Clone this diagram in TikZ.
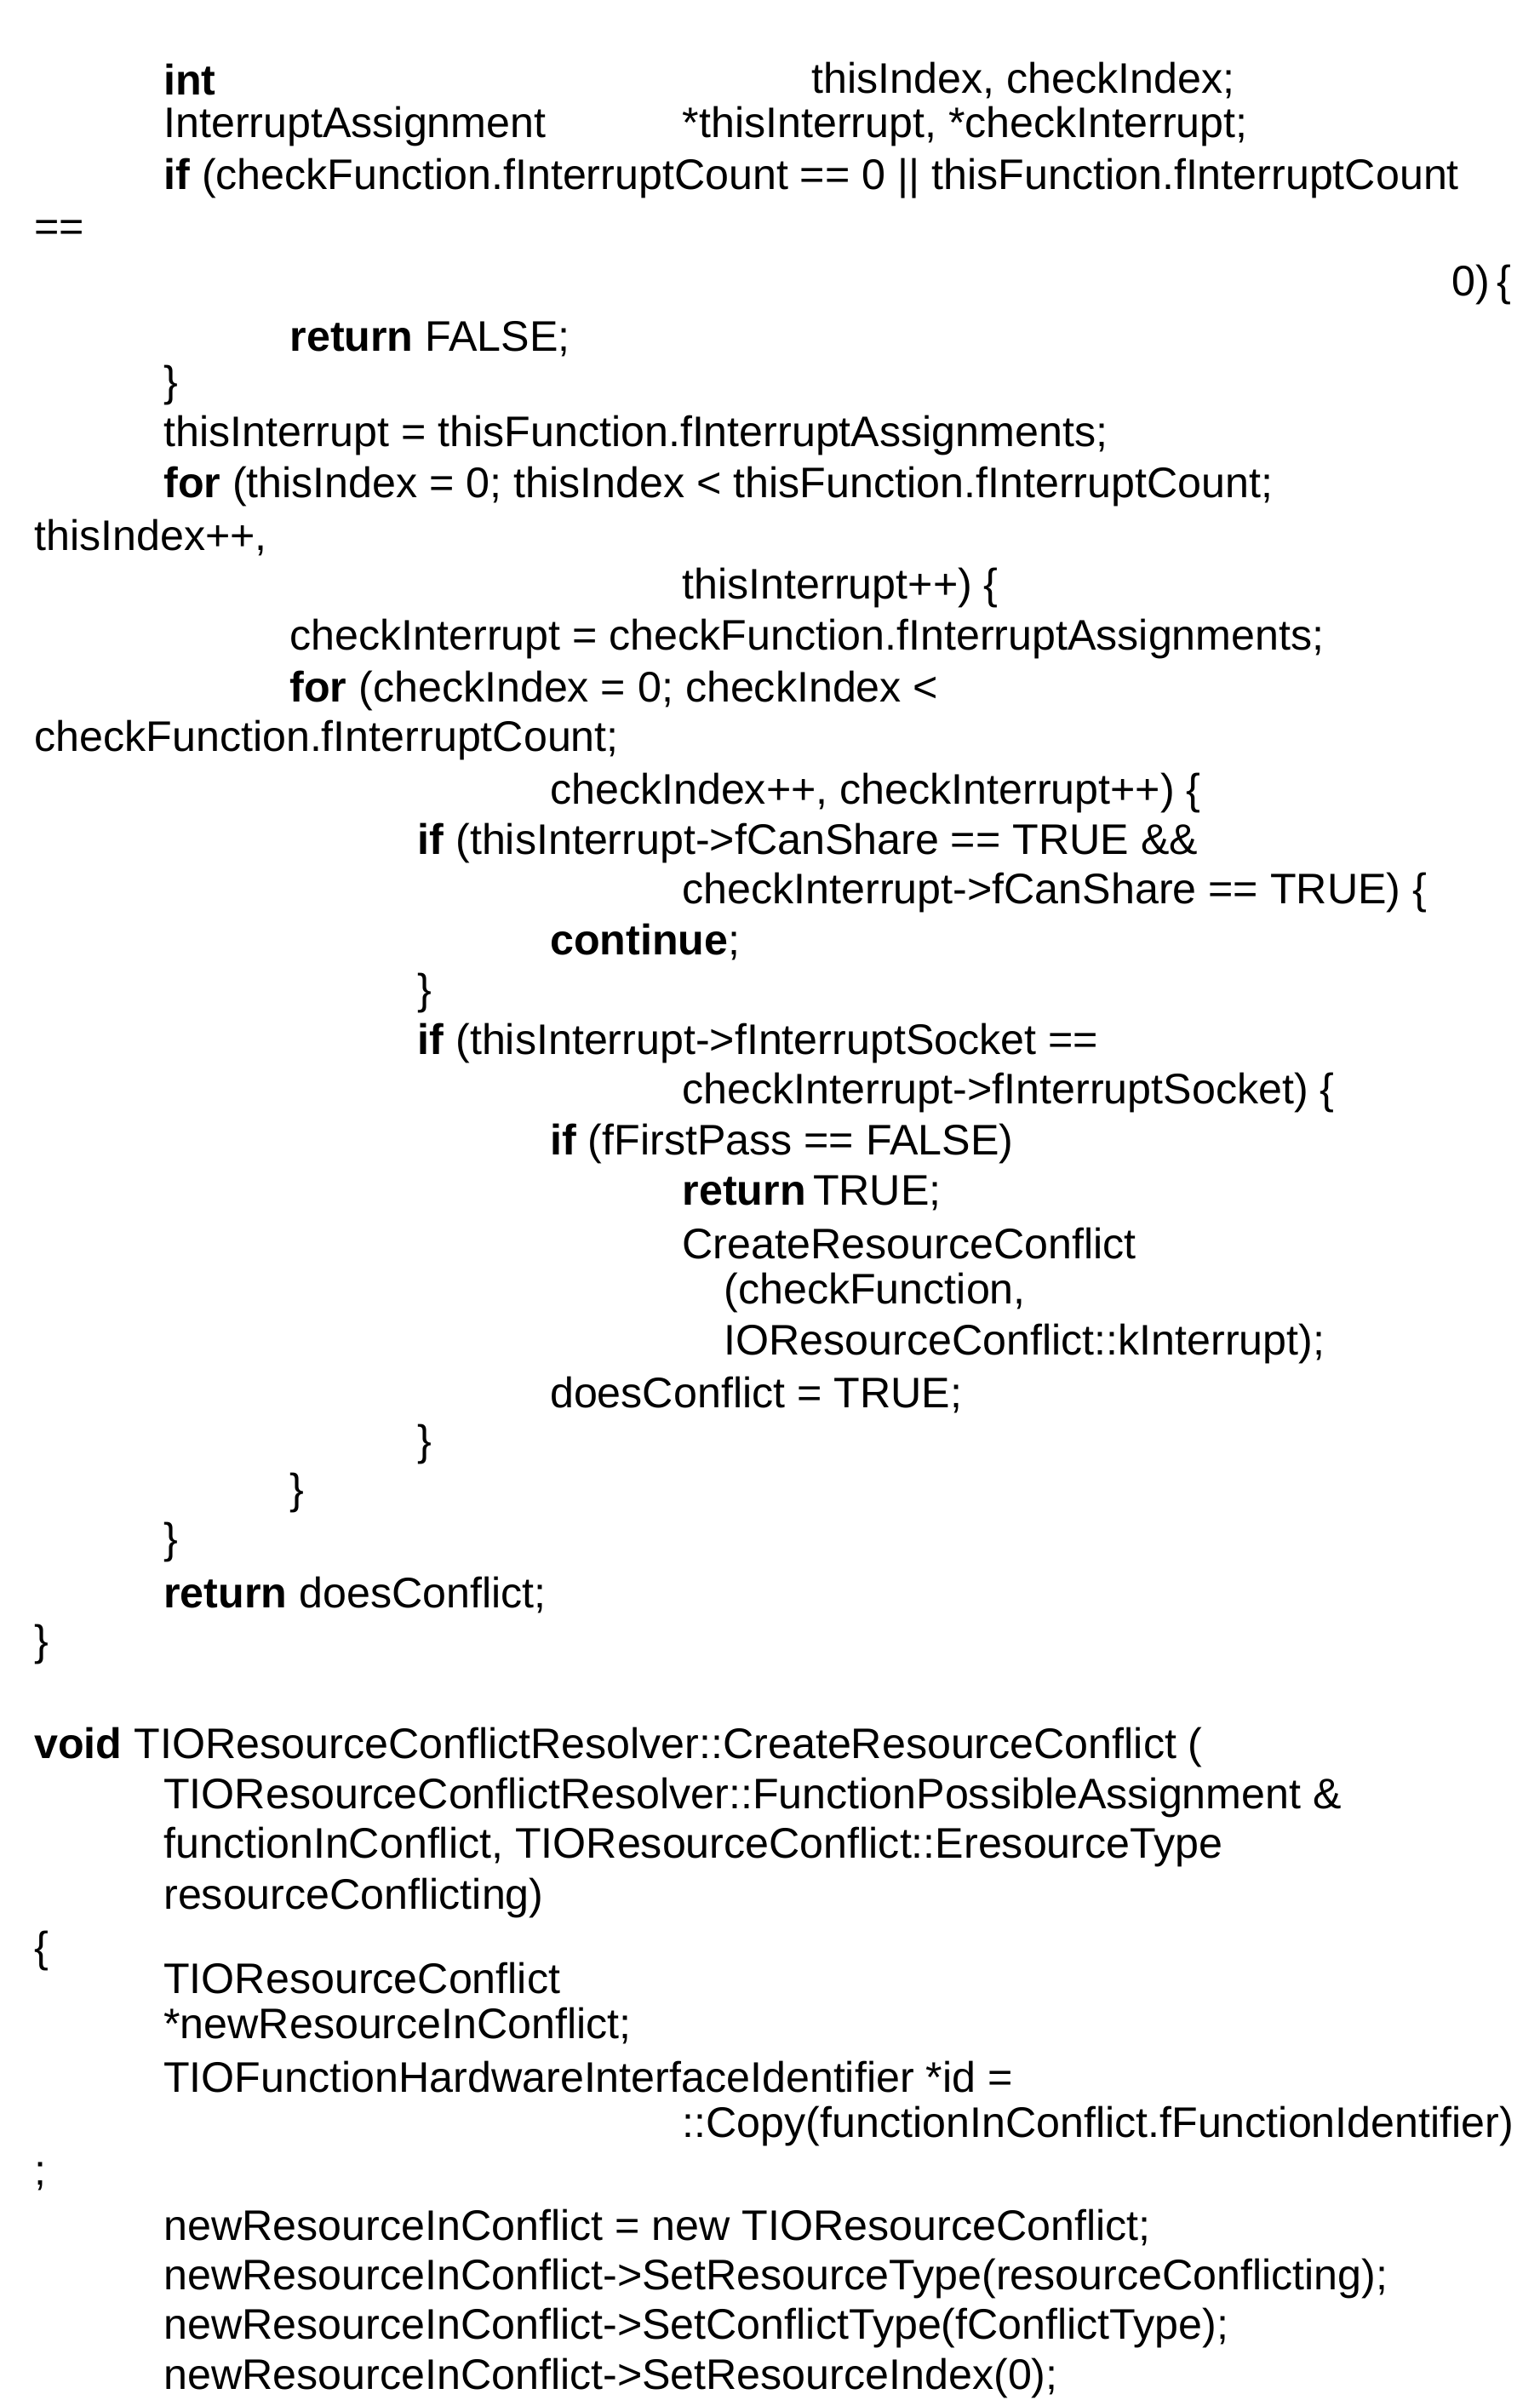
\documentclass[tikz,border=0pt]{standalone}
\usepackage{fontspec}
\setmainfont{Liberation Sans}
\begin{document}
\begin{tikzpicture}[x=0.02cm,y=-0.02cm,
  t/.style={anchor=west,inner sep=0pt,font=\fontsize{15.8}{18}\selectfont},
  r/.style={anchor=east,inner sep=0pt,font=\fontsize{15.8}{18}\selectfont}]
\useasboundingbox[fill=white] (0,0) rectangle (1000,1559);
\node[t] (a1) at (106,52) {\textbf{int}};
\node[t] (a2) at (527,52) {thisIndex, checkIndex;};
\node[t] (a3) at (106,82) {InterruptAssignment};
\node[t] (a4) at (443,82) {*thisInterrupt, *checkInterrupt;};
\node[t] (a5) at (106,116) {\textbf{if} (checkFunction.fInterruptCount == 0 || thisFunction.fInterruptCount};
\node[t] (a6) at (22,150) {==};
\node[r] (a7) at (982,185) {0)\,\{};
\node[t] (a8) at (188,220) {\textbf{return} FALSE;};
\node[t] (a9) at (106,250) {\}};
\node[t] (a10) at (106,283) {thisInterrupt = thisFunction.fInterruptAssignments;};
\node[t] (a11) at (106,316) {\textbf{for} (thisIndex = 0; thisIndex < thisFunction.fInterruptCount;};
\node[t] (a12) at (22,349) {thisIndex++,};
\node[t] (a13) at (443,382) {thisInterrupt++) \{};
\node[t] (a14) at (188,415) {checkInterrupt = checkFunction.fInterruptAssignments;};
\node[t] (a15) at (188,449) {\textbf{for} (checkIndex = 0; checkIndex <};
\node[t] (a16) at (22,481) {checkFunction.fInterruptCount;};
\node[t] (a17) at (357,515) {checkIndex++, checkInterrupt++) \{};
\node[t] (a18) at (271,548) {\textbf{if} (thisInterrupt->fCanShare == TRUE \&\&};
\node[t] (a19) at (443,580) {checkInterrupt->fCanShare == TRUE) \{};
\node[t] (a20) at (357,612) {\textbf{continue};};
\node[t] (a21) at (271,645) {\}};
\node[t] (a22) at (271,678) {\textbf{if} (thisInterrupt->fInterruptSocket ==};
\node[t] (a23) at (443,710) {checkInterrupt->fInterruptSocket) \{};
\node[t] (a24) at (357,743) {\textbf{if} (fFirstPass == FALSE)};
\node[t] (a25) at (443,775) {\textbf{return}\,TRUE;};
\node[t] (a26) at (443,808) {CreateResourceConflict};
\node[t] (a27) at (470,840) {(checkFunction,};
\node[t] (a28) at (470,873) {IOResourceConflict::kInterrupt);};
\node[t] (a29) at (357,906) {doesConflict = TRUE;};
\node[t] (a30) at (271,938) {\}};
\node[t] (a31) at (188,970) {\}};
\node[t] (a32) at (106,1002) {\}};
\node[t] (a33) at (106,1036) {\textbf{return} doesConflict;};
\node[t] (a34) at (22,1068) {\}};
\node[t] (b1) at (22,1135) {\textbf{void} TIOResourceConflictResolver::CreateResourceConflict (};
\node[t] (b2) at (106,1168) {TIOResourceConflictResolver::FunctionPossibleAssignment \&};
\node[t] (b3) at (106,1200) {functionInConflict, TIOResourceConflict::EresourceType};
\node[t] (b4) at (106,1233) {resourceConflicting)};
\node[t] (b5) at (22,1267) {\{};
\node[t] (b6) at (106,1285) {TIOResourceConflict};
\node[t] (b7) at (106,1316) {*newResourceInConflict;};
\node[t] (b8) at (106,1349) {TIOFunctionHardwareInterfaceIdentifier *id =};
\node[t] (b9) at (443,1381) {::Copy(functionInConflict.fFunctionIdentifier)};
\node[t] (b10) at (22,1414) {;};
\node[t] (b11) at (106,1447) {newResourceInConflict = new TIOResourceConflict;};
\node[t] (b12) at (106,1480) {newResourceInConflict->SetResourceType(resourceConflicting);};
\node[t] (b13) at (106,1512) {newResourceInConflict->SetConflictType(fConflictType);};
\node[t] (b14) at (106,1545) {newResourceInConflict->SetResourceIndex(0);};
\end{tikzpicture}
\end{document}
